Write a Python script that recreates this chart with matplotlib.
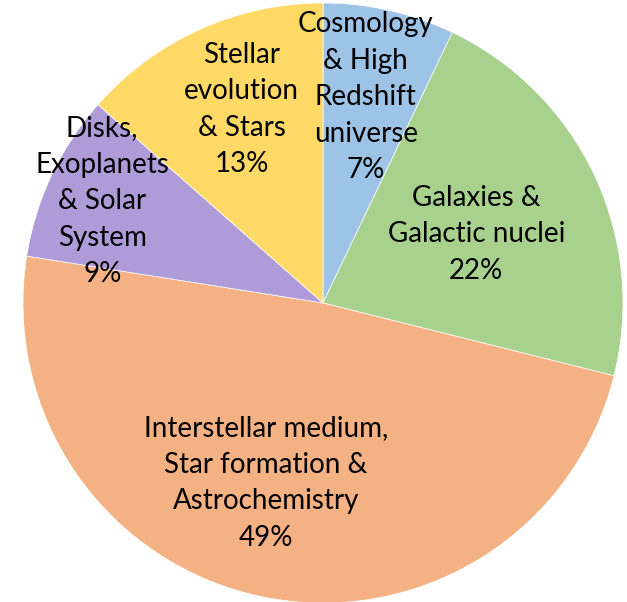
import numpy as np
import matplotlib.pyplot as plt

labels = [
    "Cosmology\n& High\nRedshift\nuniverse",
    "Galaxies &\nGalactic nuclei",
    "Interstellar medium,\nStar formation &\nAstrochemistry",
    "Disks,\nExoplanets\n& Solar\nSystem",
    "Stellar\nevolution\n& Stars",
]
shares = [7.1, 21.8, 48.6, 9.0, 13.5]
pct_labels = ["7%", "22%", "49%", "9%", "13%"]
colors = ["#9DC3E6", "#A9D18E", "#F4B183", "#B09BD9", "#FFD966"]
# radial position of each label, as a fraction of the radius
label_r = [0.70, 0.56, 0.63, 0.81, 0.70]
label_dang = [1.0, -1.0, -6.0, 0.5, -1.5]

fig = plt.figure(figsize=(6.27, 6.02), dpi=100)
ax = fig.add_axes([23 / 627, -1 / 602, 600 / 627, 600 / 602])

wedges, _ = ax.pie(shares, colors=colors, startangle=90, counterclock=False,
                   radius=1.0, wedgeprops=dict(edgecolor="white", linewidth=0.5))

for w, lab, pct, r, da in zip(wedges, labels, pct_labels, label_r, label_dang):
    ang = np.deg2rad((w.theta1 + w.theta2) / 2 + da)
    ax.text(r * np.cos(ang), r * np.sin(ang), lab + "\n" + pct,
            ha="center", va="center", fontsize=20, family="Lato",
            linespacing=1.5, color="black")

ax.set_xlim(-1, 1)
ax.set_ylim(-1, 1)
ax.set_aspect("equal")
ax.axis("off")

fig.savefig("out.png", dpi=100)
